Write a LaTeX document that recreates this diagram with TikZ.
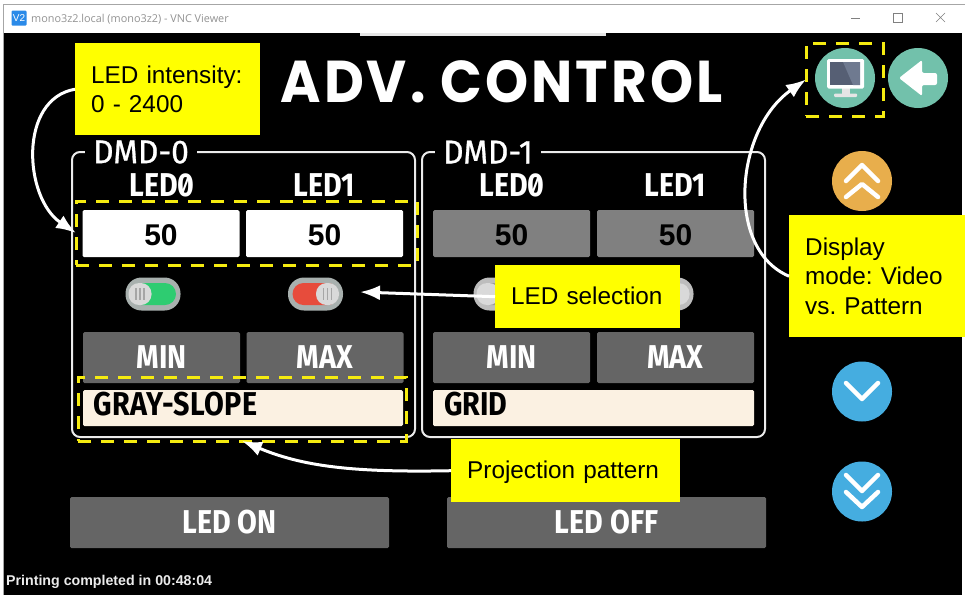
\documentclass[tikz,border=0pt]{standalone}
\usepackage{fontspec}
\usetikzlibrary{arrows.meta}
\setmainfont{Liberation Sans}
\newfontfamily\ledfont[FakeStretch=0.87,RawFeature=+zero]{Fira Sans}
\newfontfamily\dmdfont[FakeStretch=0.96,FakeBold=0.8]{Fira Sans}
\newfontfamily\titlefont[LetterSpace=5.2,FakeStretch=0.93]{Poppins}
\newfontfamily\barfont{Open Sans}
\definecolor{notefill}{HTML}{FFFF00}
\definecolor{dashline}{HTML}{F5EB10}
\definecolor{btngray}{HTML}{656565}
\definecolor{boxgray}{HTML}{808080}
\definecolor{creamfill}{HTML}{FBF1E2}
\definecolor{teal}{HTML}{72C1AB}
\definecolor{amber}{HTML}{E8AE4C}
\definecolor{skyblue}{HTML}{45ADE0}
\definecolor{rimgray}{HTML}{A8B0AE}
\definecolor{rimpale}{HTML}{BDBDBD}
\definecolor{ongreen}{HTML}{2ECC71}
\definecolor{onred}{HTML}{E74C3C}
\definecolor{offgray}{HTML}{9A9A9A}
\definecolor{screendark}{HTML}{565F74}
\definecolor{screenpale}{HTML}{6F7A90}
\definecolor{iconblue}{HTML}{2A8AE8}
\frenchspacing
\begin{document}
\begin{tikzpicture}[x=1pt,y=-1pt,>={Latex[length=20pt,width=15pt]},
  note/.style={fill=notefill,anchor=north west,align=left,inner xsep=16pt,inner ysep=0pt,
      font=\fontsize{24.3}{29.5}\selectfont},
  dashbox/.style={draw=dashline,line width=3pt,dash pattern=on 13pt off 10pt,inner sep=0pt,outer sep=0pt},
  callout/.style={->,white,line width=3pt},
  btn/.style={fill=btngray,rounded corners=1.5pt,text=white,inner sep=0pt,font=\ledfont\bfseries\fontsize{33}{33}\selectfont},
  field/.style={rounded corners=1.5pt,inner sep=0pt,font=\bfseries\fontsize{30}{30}\selectfont,
      minimum width=157pt,minimum height=47pt,text height=23pt,text depth=0pt},
  head/.style={text=white,inner sep=0pt,font=\ledfont\bfseries\fontsize{33}{33}\selectfont},
  frame/.style={white!92!black,line width=2pt,rounded corners=8pt},
  round/.style={circle,inner sep=0pt,minimum size=60pt},
  chev/.style={white,line width=4.5pt,line cap=round,line join=round}]

  \useasboundingbox (0,0) rectangle (965,595);
  \fill[white] (0,0) rectangle (965,595);
  \fill[black] (4,33) rectangle (962,595);
  \fill[white!90!black] (360,33) rectangle (606,35.5);
  \draw[gray!70,line width=1pt] (3.5,595) -- (3.5,4.5) -- (965,4.5);

  % Window title bar
  \node[fill=iconblue,rounded corners=1pt,minimum size=15pt,inner sep=0pt,text=white,
      font=\fontsize{10}{10}\selectfont] (vncicon) at (19,18) {V2};
  \node[anchor=west,inner sep=0pt,text=gray!85,font=\barfont\fontsize{10.85}{10.85}\selectfont] (wintitle) at (31,19)
      {mono3z2.local (mono3z2) - VNC Viewer};
  \draw[gray] (851,18) -- (860,18);
  \draw[gray] (893,13.5) rectangle (902,22.5);
  \draw[gray] (936,13) -- (945,22) (936,22) -- (945,13);

  \node[text=white,inner sep=0pt,font=\titlefont\bfseries\fontsize{59}{59}\selectfont] (title) at (501.5,82) {ADV. CONTROL};

  % Panels
  \foreach \x/\n in {72/0,422/1} {
      \draw[frame] (\x,152) rectangle ++(343,285);
      \node[anchor=west,fill=black,inner xsep=8pt,inner ysep=0pt,text=white,
          font=\dmdfont\fontsize{33}{33}\selectfont] (dmd\n) at (\x+13,152) {DMD-\n};
  }
  \foreach \x/\n/\t in {162/a/LED0,324/b/LED1,512/c/LED0,675/d/LED1} {
      \node[head] (head\n) at (\x,185) {\t};
  }
  \node[field,fill=white] (fielda) at (161,233.5) {50};
  \node[field,fill=white] (fieldb) at (324.5,233.5) {50};
  \node[field,fill=boxgray] (fieldc) at (511.5,233.5) {50};
  \node[field,fill=boxgray] (fieldd) at (675.5,233.5) {50};

  % Toggles
  \foreach \x/\rim/\slot/\k/\v in {153/rimgray/ongreen/-13/70,315.5/rimgray/onred/12/70,501/rimpale/offgray/-13/30,666/rimpale/offgray/12/30} {
      \fill[\rim,rounded corners=16pt] (\x-27.5,277.5) rectangle (\x+27.5,310.5);
      \fill[\slot,rounded corners=11pt] (\x-23,283) rectangle (\x+23,305);
      \fill[white!85!black,rounded corners=10.5pt] (\x+\k-11.5,283) rectangle (\x+\k+11.5,305);
      \foreach \d in {-4,0,4} {
          \draw[gray!\v,line width=1.2pt] (\x+\k+\d,288) -- (\x+\k+\d,300);
      }
  }

  \foreach \x/\n/\t in {161.5/a/MIN,325/b/MAX,511.5/c/MIN,675.5/d/MAX} {
      \node[btn,minimum width=157pt,minimum height=51pt,text depth=0pt] (limit\n) at (\x,357.5) {\t};
  }
  \node[fill=creamfill,rounded corners=1.5pt,minimum width=320pt,minimum height=36pt,inner sep=0pt] (spina) at (243,408) {};
  \node[fill=creamfill,rounded corners=1.5pt,minimum width=321pt,minimum height=36pt,inner sep=0pt] (spinb) at (593.5,408) {};
  \node[anchor=west,inner sep=0pt,font=\ledfont\bfseries\fontsize{33}{33}\selectfont\addfontfeature{LetterSpace=1.5}] (graytext) at (93,404) {GRAY-SLOPE};
  \node[anchor=west,inner sep=0pt,font=\ledfont\bfseries\fontsize{33}{33}\selectfont] (gridtext) at (444,404) {GRID};

  \node[btn,minimum width=319pt,minimum height=51pt] (ledon) at (229.5,522.5) {LED ON};
  \node[btn,minimum width=319pt,minimum height=51pt] (ledoff) at (606.5,522.5) {LED OFF};

  \node[anchor=west,inner sep=0pt,text=white!92!black,font=\fontsize{14.2}{14.2}\selectfont\bfseries] (status) at (6,582)
      {Printing completed in 00:48:04};

  % Round buttons
  \node[round,fill=teal] (videobtn) at (845,78) {};
  \node[round,fill=teal] (backbtn) at (918,78) {};
  \node[round,fill=amber] (upbtn) at (862,181) {};
  \node[round,fill=skyblue] (downbtn) at (862,391.5) {};
  \node[round,fill=skyblue] (lastbtn) at (862,491.5) {};

  % Monitor glyph
  \fill[white!90!black] (842,88) rectangle (850,94);
  \fill[white!90!black,rounded corners=1pt] (834,93.5) rectangle (857,97);
  \fill[white,rounded corners=1.5pt] (827,59) rectangle (864,88.5);
  \fill[screendark] (830,62) rectangle (860,85);
  \fill[screenpale] (843,62) -- (860,62) -- (860,85) -- (853,85) -- cycle;

  % Back glyph
  \fill[white,rounded corners=2pt] (899,78) -- (922,60) -- (922,73) -- (937,73) -- (937,85) -- (922,85) -- (922,96) -- cycle;

  % Chevrons
  \draw[chev] (846,181) -- (862,165) -- (878,181);
  \draw[chev] (846,197) -- (862,184) -- (878,197);
  \draw[chev] (846,383) -- (862,399) -- (878,383);
  \draw[chev] (846,475) -- (862,491) -- (878,475);
  \draw[chev] (846,492) -- (862,507) -- (878,492);

  % Yellow notes
  \node[note,text width=153pt,minimum height=92pt] (intensity) at (75,43) {LED intensity:\\0 - 2400};
  \node[note,text width=144pt,minimum height=122pt] (display) at (789,215) {Display\\mode: Video\\vs. Pattern};
  \node[note,text width=153pt,minimum height=63pt,text height=17pt,text depth=2pt] (selection) at (495,265) {LED selection};
  \node[note,text width=197pt,minimum height=63pt,text height=17.5pt,text depth=1pt] (projection) at (451,439) {Projection pattern};

  % Dashed marks
  \node[dashbox,minimum width=341pt,minimum height=64pt] (intensitybox) at (246.5,233) {};
  \node[dashbox,minimum width=328pt,minimum height=64pt] (patternbox) at (242,409) {};
  \node[dashbox,minimum width=77pt,minimum height=73pt] (videobox) at (844.5,79.5) {};
  \coordinate (seltip) at (360,292);

  % Draw callouts
  \draw[callout] (intensity.west) .. controls +(-57,10) and +(-52,-35) .. (intensitybox.west);
  \draw[callout] (selection.west) -- (seltip);
  \draw[callout] (display.west) .. controls +(-64,-27) and +(-71,50) .. (videobox.west);
  \draw[callout] (projection.west) .. controls +(-100,2) and +(60,25) .. (patternbox.south);

\end{tikzpicture}
\end{document}
